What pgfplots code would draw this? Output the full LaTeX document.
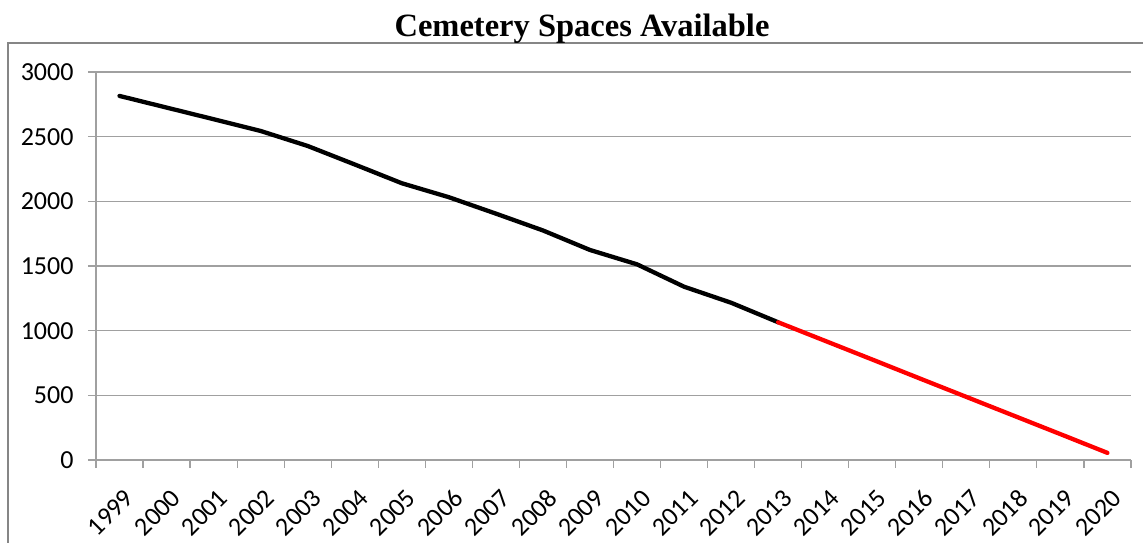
\documentclass[border=0pt]{standalone}
\usepackage{pgfplots}
\pgfplotsset{compat=1.18}
\usepackage{fontspec}
\setmainfont{Carlito}
\newfontfamily\titlefont{Liberation Serif}
\definecolor{gridgray}{RGB}{160,160,160}
\definecolor{framegray}{RGB}{134,134,134}
\begin{document}
\begin{tikzpicture}[x=1pt,y=1pt]
\begin{axis}[
  at={(96pt,82pt)}, anchor=south west,
  scale only axis, width=1035pt, height=388pt,
  xmin=-0.5, xmax=21.5, ymin=0, ymax=3000,
  ytick={0,500,...,3000},
  xtick={-0.5,0.5,...,21.5},
  x tick label as interval,
  xticklabels={1999,2000,2001,2002,2003,2004,2005,2006,2007,2008,2009,2010,2011,2012,2013,2014,2015,2016,2017,2018,2019,2020},
  axis x line*=bottom, axis y line*=left,
  axis line style={gridgray, line width=1.2pt, -},
  ymajorgrids, grid style={gridgray, line width=1.2pt},
  tick align=outside, major tick length=8pt,
  tick style={gridgray, line width=1.2pt},
  /pgf/number format/assume math mode=true,
  /pgf/number format/set thousands separator={},
  tick label style={font=\fontsize{26}{26}\selectfont, black},
  xticklabel style={rotate=45, anchor=north east, xshift=-8pt, yshift=-13pt},
  yticklabel style={xshift=-11pt},
  clip=false,
]
\addplot[black, line width=4.3pt, line join=round, line cap=round] coordinates {
  (0,2815) (1,2725) (2,2635) (3,2544) (4,2428) (5,2285) (6,2140) (7,2032)
  (8,1905) (9,1775) (10,1624) (11,1513) (12,1340) (13,1216) (14,1065)
};
\addplot[red, line width=4.3pt, line join=round, line cap=round] coordinates {
  (14,1065) (15,921) (16,777) (17,632) (18,488) (19,344) (20,200) (21,55)
};
\end{axis}
\draw[framegray, line width=2pt] (8,-10) -- (8,498.5) -- (1160,498.5);
\node[font=\titlefont\bfseries\fontsize{32.5}{32.5}\selectfont, anchor=base] at (582,505) {Cemetery Spaces Available};
\pgfresetboundingbox
\useasboundingbox (0,0) rectangle (1143,542);
\end{tikzpicture}
\end{document}
